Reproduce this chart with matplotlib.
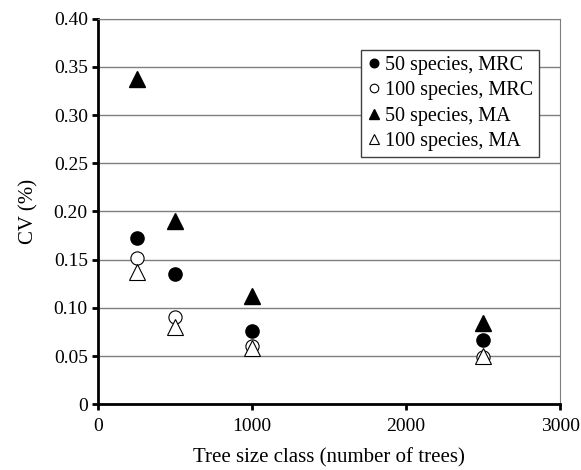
import matplotlib.pyplot as plt

# tree size classes
tree_sizes = [250, 500, 1000, 2500]

# CV values
cv_50_mrc = [0.172, 0.135, 0.076, 0.067]
cv_100_mrc = [0.152, 0.091, 0.060, 0.049]
cv_50_ma = [0.338, 0.190, 0.112, 0.084]
cv_100_ma = [0.137, 0.080, 0.058, 0.050]

labels = ["50 species, MRC", "100 species, MRC", "50 species, MA", "100 species, MA"]

plt.rcParams['font.family'] = ['Liberation Serif', 'DejaVu Serif']
plt.rcParams['font.size'] = 14

fig = plt.figure(figsize=(5.81, 4.70), dpi=100)
ax = fig.add_axes([0.169, 0.140, 0.795, 0.820])

ax.plot(tree_sizes, cv_50_mrc, 'o', color='black', markersize=9.5, label=labels[0], zorder=3)
ax.plot(tree_sizes, cv_100_mrc, 'o', markerfacecolor='white', markeredgecolor='black',
        markeredgewidth=0.8, markersize=9.5, label=labels[1], zorder=3)
ax.plot(tree_sizes, cv_50_ma, '^', color='black', markersize=11, label=labels[2], zorder=3)
ax.plot(tree_sizes, cv_100_ma, '^', markerfacecolor='white', markeredgecolor='black',
        markeredgewidth=0.8, markersize=11, label=labels[3], zorder=3)

ax.set_xlim(0, 3000)
ax.set_ylim(0, 0.40)
ax.set_xticks([0, 1000, 2000, 3000])
ax.set_yticks([0.05 * i for i in range(9)])
ax.set_yticklabels(['0'] + ['%.2f' % (0.05 * i) for i in range(1, 9)])

ax.yaxis.grid(True, color='#7f7f7f', linewidth=1)
ax.set_axisbelow(True)

for side in ['left', 'bottom']:
    ax.spines[side].set_linewidth(2)
    ax.spines[side].set_color('black')
ax.spines['right'].set_color('#7f7f7f')
ax.spines['top'].set_color('#7f7f7f')
ax.tick_params(axis='both', direction='out', width=2, length=4, colors='black', labelsize=14)
ax.tick_params(axis='x', pad=6)

ax.set_xlabel('Tree size class (number of trees)', fontsize=15, labelpad=9)
ax.set_ylabel('CV (%)', fontsize=15, labelpad=11)

leg = ax.legend(loc='upper right', bbox_to_anchor=(0.955, 0.92), frameon=True, fancybox=False,
                edgecolor='#404040', framealpha=1, markerscale=0.65, handletextpad=0.2,
                handlelength=0.7, borderpad=0.3, borderaxespad=0, labelspacing=0.32, fontsize=14.5)
leg.get_frame().set_linewidth(1)

fig.savefig('out.png', dpi=100)
